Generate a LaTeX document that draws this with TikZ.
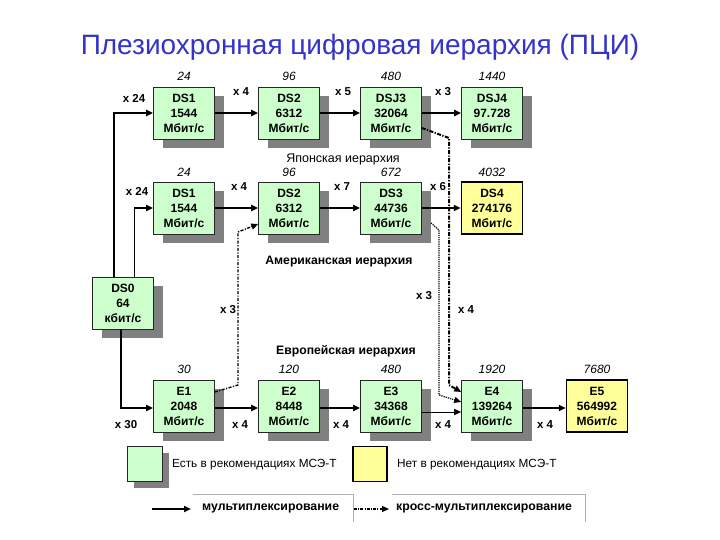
\documentclass[tikz,border=0pt]{standalone}
\usepackage{fontspec}
\setmainfont{Liberation Sans}
\usetikzlibrary{shadows,arrows.meta,calc}
\definecolor{boxgreen}{RGB}{204,255,204}
\definecolor{boxyellow}{RGB}{255,255,153}
\definecolor{shadowgray}{RGB}{128,128,128}
\definecolor{titleblue}{RGB}{51,51,204}
\definecolor{rulegray}{RGB}{175,175,175}
\begin{document}
\begin{tikzpicture}[x=1pt,y=-1pt,
  gbox/.style={draw=black!85, line width=0.6pt, fill=boxgreen, minimum width=61pt, minimum height=52pt, inner sep=0pt, align=center, font=\bfseries\fontsize{12}{15}\selectfont, drop shadow={shadow xshift=9pt, shadow yshift=-9pt, fill=shadowgray, opacity=1}},
  ybox/.style={draw=black, line width=1.5pt, fill=boxyellow, minimum width=61pt, minimum height=52pt, inner sep=0pt, align=center, font=\bfseries\fontsize{12}{15}\selectfont},
  num/.style={font=\itshape\fontsize{12}{14}\selectfont, inner sep=0pt},
  mult/.style={font=\bfseries\fontsize{11.5}{13}\selectfont, inner sep=0pt},
  hier/.style={font=\bfseries\fontsize{12.2}{14}\selectfont, inner sep=0pt},
  arr/.style={line width=2pt, -{Triangle[length=7pt,width=6pt]}},
  tarr/.style={line width=1pt, -{Triangle[length=7pt,width=6pt]}},
  xdashA/.style={line width=2pt, dash pattern=on 4pt off 1.5pt on 1.2pt off 1.5pt, -{Triangle[length=7pt,width=6pt]}},
  xdashB/.style={line width=1.2pt, dash pattern=on 1.2pt off 1pt, -{Triangle[length=7pt,width=6pt]}},
  xdashC/.style={line width=1.4pt, dash pattern=on 3pt off 1.5pt on 1.2pt off 1.5pt, -{Triangle[length=7pt,width=6pt]}},
  leg/.style={font=\fontsize{11.8}{13}\selectfont, inner sep=0pt, anchor=west},
  legb/.style={font=\bfseries\fontsize{12.3}{14}\selectfont, inner sep=0pt, anchor=west}
]
\useasboundingbox (0,0) rectangle (720,540);

% title
\node[font=\fontsize{28}{32}\selectfont, text=titleblue] (title) at (360,47) {Плезиохронная цифровая иерархия (ПЦИ)};

% Japanese row
\node[gbox] (j1) at (184,113) {DS1\\1544\\Мбит/с};
\node[gbox] (j2) at (289,113) {DS2\\6312\\Мбит/с};
\node[gbox] (j3) at (391,113) {DSJ3\\32064\\Мбит/с};
\node[gbox] (j4) at (492,113) {DSJ4\\97.728\\Мбит/с};

% American row
\node[gbox] (a1) at (184,208) {DS1\\1544\\Мбит/с};
\node[gbox] (a2) at (289,208) {DS2\\6312\\Мбит/с};
\node[gbox] (a3) at (391,208) {DS3\\44736\\Мбит/с};
\node[ybox] (a4) at (492,208) {DS4\\274176\\Мбит/с};

% DS0
\node[gbox] (d0) at (123,303) {DS0\\64\\кбит/с};

% European row
\node[gbox] (e1) at (184,406) {E1\\2048\\Мбит/с};
\node[gbox] (e2) at (289,406) {E2\\8448\\Мбит/с};
\node[gbox] (e3) at (391,406) {E3\\34368\\Мбит/с};
\node[gbox] (e4) at (492,406) {E4\\139264\\Мбит/с};
\node[ybox] (e5) at (597,406) {E5\\564992\\Мбит/с};

% numbers above
\node[num] (n11) at (184,76) {24};
\node[num] (n12) at (289,76) {96};
\node[num] (n13) at (391,76) {480};
\node[num] (n14) at (492,76) {1440};
\node[num] (n21) at (184,172) {24};
\node[num] (n22) at (289,172) {96};
\node[num] (n23) at (391,172) {672};
\node[num] (n24) at (492,172) {4032};
\node[num] (n31) at (184,369) {30};
\node[num] (n32) at (289,369) {120};
\node[num] (n33) at (391,369) {480};
\node[num] (n34) at (492,369) {1920};
\node[num] (n35) at (597,369) {7680};

% multiplier labels
\node[mult] (m11) at (134,98) {x 24};
\node[mult] (m12) at (241,92) {x 4};
\node[mult] (m13) at (343,92) {x 5};
\node[mult] (m14) at (443,92) {x 3};
\node[mult] (m21) at (137,191) {x 24};
\node[mult] (m22) at (239,187) {x 4};
\node[mult] (m23) at (342,187) {x 7};
\node[mult] (m24) at (438,187) {x 6};
\node[mult] (m31) at (126,425) {x 30};
\node[mult] (m32) at (240,425) {x 4};
\node[mult] (m33) at (341,425) {x 4};
\node[mult] (m34) at (443,425) {x 4};
\node[mult] (m35) at (545,425) {x 4};
\node[mult] (m41) at (228,310) {x 3};
\node[mult] (m42) at (424,296) {x 3};
\node[mult] (m43) at (466,310) {x 4};

% hierarchy labels
\node[font=\fontsize{12.5}{14}\selectfont, inner sep=0pt] (hj) at (343,159) {Японская иерархия};
\node[hier] (ha) at (339,262) {Американская иерархия};
\node[hier] (he) at (346,351) {Европейская иерархия};

% solid connectors
\draw[arr] ([xshift=-9pt]d0.north) |- (j1.west);
\coordinate (bend2) at (134,208);
\draw[line width=1pt] ([xshift=11pt]d0.north) -- (bend2);
\draw[arr] (bend2) -- (a1.west);
\draw[arr] ([xshift=-2pt]d0.south) |- ([yshift=-2pt]e1.west);

\draw[arr] (j1) -- (j2);
\draw[arr] (j2) -- (j3);
\draw[arr] (j3) -- (j4);
\draw[arr] (a1) -- (a2);
\draw[arr] (a2) -- (a3);
\draw[arr] (a3) -- (a4);
\draw[arr] ([yshift=-2pt]e1.east) -- ([yshift=-2pt]e2.west);
\draw[arr] ([yshift=-2pt]e2.east) -- ([yshift=-2pt]e3.west);
\draw[tarr] ([yshift=-6pt]e3.east) -- ([yshift=-6pt]e4.west);
\draw[arr] ([yshift=-2pt]e4.east) -- ([yshift=-2pt]e5.west);

% cross-multiplexing connectors
\coordinate (ka) at (449,138);
\coordinate (kb) at (449,385);
\draw[xdashA] ([yshift=-15pt]j3.east) -- (ka) -- (kb) -- ([yshift=14pt]e4.west);
\coordinate (la0) at (431,223);
\coordinate (la) at (439,230);
\coordinate (lb) at (439,395);
\draw[xdashB] (la0) -- (la) -- (lb) -- ([yshift=4pt]e4.west);
\coordinate (ma) at (238,385);
\coordinate (mb) at (238,232);
\draw[xdashC] ([yshift=14pt]e1.east) -- (ma) -- (mb) -- ([yshift=-16pt]a2.west);

% legend
\node[draw=black!85, line width=0.6pt, fill=boxgreen, minimum width=35pt, minimum height=35pt, inner sep=0pt, drop shadow={shadow xshift=6pt, shadow yshift=-6pt, fill=shadowgray, opacity=1}] (lg) at (145,464) {};
\node[leg] (lgt) at (172,465) {Есть в рекомендациях МСЭ-Т};
\node[draw=black, line width=1.5pt, fill=boxyellow, minimum width=34pt, minimum height=35pt, inner sep=0pt] (ly) at (370,464) {};
\node[leg] (lyt) at (397,465) {Нет в рекомендациях МСЭ-Т};

\coordinate (s1) at (152,509);
\coordinate (s2) at (191,509);
\draw[arr] (s1) -- (s2);
\node[legb] (st) at (202,508) {мультиплексирование};
\coordinate (c1) at (354,509);
\coordinate (c2) at (389,509);
\draw[line width=1.2pt, dash pattern=on 3pt off 1.2pt on 1pt off 1.2pt, -{Triangle[length=7pt,width=6pt]}] (c1) -- (c2);
\node[legb] (ct) at (396,508) {кросс-мультиплексирование};

\coordinate (g1) at (193,494);
\coordinate (g2) at (353,494);
\coordinate (g3) at (353,522);
\coordinate (g4) at (392,494);
\coordinate (g5) at (585,494);
\coordinate (g6) at (585,522);
\draw[rulegray, line width=0.8pt] (g1) -- (g2) -- (g3);
\draw[rulegray, line width=0.8pt] (g4) -- (g5) -- (g6);
\end{tikzpicture}
\end{document}
